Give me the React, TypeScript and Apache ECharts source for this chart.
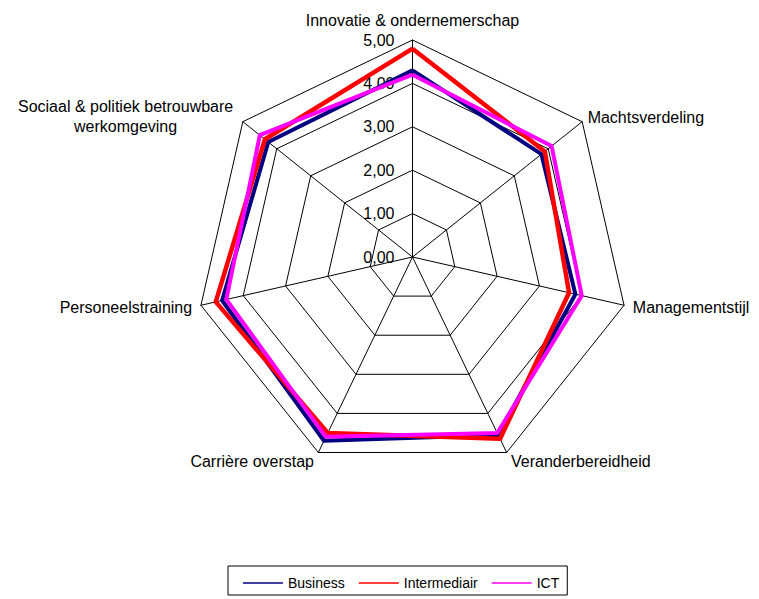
import React, { useEffect, useRef } from "react";
import * as echarts from "echarts";

// Categories in clockwise order starting at the top
const indicatorNames = [
  "Innovatie & ondernemerschap",
  "Machtsverdeling",
  "Managementstijl",
  "Veranderbereidheid",
  "Carrière overstap",
  "Personeelstraining",
  "{c|Sociaal & politiek betrouwbare}\n{c|werkomgeving}",
];
const nameGaps = [12, 7, 9, 10, 10, 9, 8];

const seriesNames = ["Business", "Intermediair", "ICT"];
const business = [4.3, 3.8, 3.85, 4.55, 4.7, 4.5, 4.25];
const intermediair = [4.8, 3.9, 3.7, 4.65, 4.5, 4.65, 4.35];
const ict = [4.2, 4.1, 4.0, 4.5, 4.6, 4.4, 4.5];
const seriesColors = ["#000080", "#FF0000", "#FF00FF"];

// ECharts radar goes counter-clockwise; reorder so categories run clockwise
const order = [0, 6, 5, 4, 3, 2, 1];

const FONT = "'Liberation Sans', Arial, sans-serif";

export default function App() {
  const ref = useRef<HTMLDivElement>(null);
  useEffect(() => {
    if (!ref.current) return;
    const chart = echarts.init(ref.current, undefined, { renderer: "svg" });
    const values = [business, intermediair, ict];
    chart.setOption({
      animation: false,
      backgroundColor: "#ffffff",
      textStyle: { fontFamily: FONT },
      legend: {
        data: seriesNames.map((n, i) => ({
          name: n,
          itemStyle: { color: seriesColors[i], borderWidth: 0, borderColor: "transparent" },
          lineStyle: { color: seriesColors[i], width: 1.5 },
        })),
        left: 228,
        top: 566,
        orient: "horizontal",
        icon: "rect",
        itemWidth: 40,
        itemHeight: 1.5,
        itemGap: 14,
        padding: [10, 8, 5, 15],
        borderColor: "#000",
        borderWidth: 1,
        itemStyle: { borderWidth: 0, borderColor: "transparent" },
        lineStyle: { width: 1.5 },
        textStyle: { fontSize: 14, color: "#000", fontFamily: FONT },
      },
      radar: {
        center: [412.5, 257],
        radius: 217,
        startAngle: 90,
        shape: "polygon",
        splitNumber: 5,
        axisName: {
          color: "#000",
          fontSize: 16,
          fontFamily: FONT,
          rich: {
            c: { width: 222, align: "center", fontSize: 16, color: "#000", fontFamily: FONT, lineHeight: 20 },
          },
        },
        splitLine: { lineStyle: { color: "#000", width: 1 } },
        splitArea: { show: false },
        axisLine: { lineStyle: { color: "#000", width: 1 } },
        axisTick: { show: false },
        axisLabel: { show: false },
        indicator: order.map((idx) => {
          const ind: any = { name: indicatorNames[idx], min: 0, max: 5, nameGap: nameGaps[idx] };
          if (idx === 0) {
            ind.axisLabel = {
              show: true,
              fontSize: 16,
              color: "#000",
              fontFamily: FONT,
              margin: 18,
              formatter: (v: number) => v.toFixed(2).replace(".", ","),
            };
          }
          return ind;
        }),
      },
      series: [
        {
          type: "radar",
          symbol: "none",
          data: seriesNames.map((n, i) => ({
            name: n,
            value: order.map((idx) => values[i][idx]),
            lineStyle: { color: seriesColors[i], width: i === 1 ? 4.5 : 4 },
            itemStyle: { color: seriesColors[i] },
          })),
        },
      ],
    });
    return () => chart.dispose();
  }, []);
  return (
    <div
      ref={ref}
      style={{ position: "fixed", left: 0, top: 0, width: 759, height: 599, background: "#fff" }}
    />
  );
}
